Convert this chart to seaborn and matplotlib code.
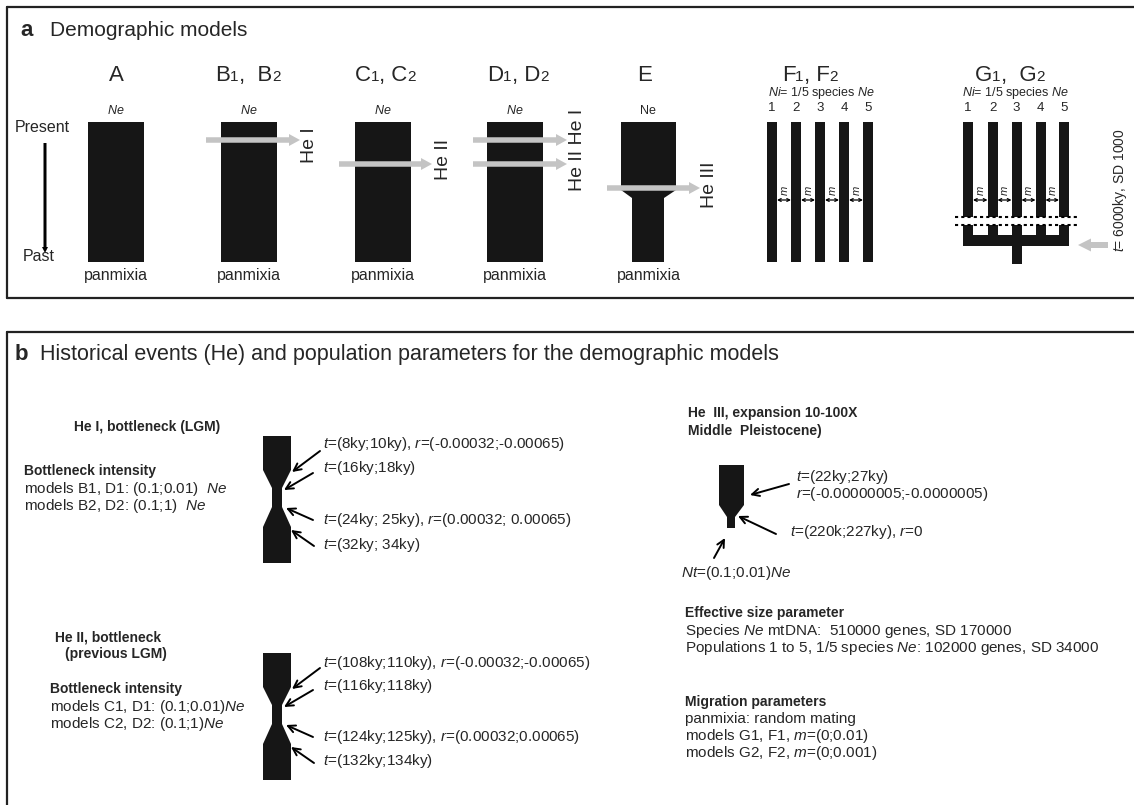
import numpy as np
import matplotlib
matplotlib.use("Agg")
import matplotlib.pyplot as plt
import seaborn as sns
from matplotlib.patches import Polygon, Rectangle, FancyArrow

sns.set_style("white")
plt.rcParams['font.family'] = ['Liberation Sans', 'DejaVu Sans']
plt.rcParams['mathtext.fontset'] = 'custom'
plt.rcParams['mathtext.rm'] = 'Liberation Sans'
plt.rcParams['mathtext.it'] = 'Liberation Sans:italic'
plt.rcParams['mathtext.bf'] = 'Liberation Sans:bold'

# ---- texts / values ----
panel_titles = ["Demographic models",
                "Historical events (He) and population parameters for the demographic models"]
# model names as (text, is_index) pieces, index drawn smaller
model_names = [[("A", 0)],
               [("B", 0), ("1", 1), (",  B", 0), ("2", 1)],
               [("C", 0), ("1", 1), (", C", 0), ("2", 1)],
               [("D", 0), ("1", 1), (", D", 0), ("2", 1)],
               [("E", 0)],
               [("F", 0), ("1", 1), (", F", 0), ("2", 1)],
               [("G", 0), ("1", 1), (",  G", 0), ("2", 1)]]
size_labels = ["$Ne$", "$Ne$", "$Ne$", "$Ne$", "Ne"]
event_labels = ["He I", "He II", "He II He I", "He III"]
pop_numbers = ["1", "2", "3", "4", "5"]
split_label = "$t$= 6000ky, SD 1000"
sub_size = "$Ni$= 1/5 species $Ne$"

he1_title = "He I, bottleneck (LGM)"
he1_intensity = ["models B1, D1: (0.1;0.01)  $Ne$", "models B2, D2: (0.1;1)  $Ne$"]
he1_times = ["$t$=(8ky;10ky), $r$=(-0.00032;-0.00065)", "$t$=(16ky;18ky)",
             "$t$=(24ky; 25ky), $r$=(0.00032; 0.00065)", "$t$=(32ky; 34ky)"]
he2_title = ["He II, bottleneck", "(previous LGM)"]
he2_intensity = ["models C1, D1: (0.1;0.01)$Ne$", "models C2, D2: (0.1;1)$Ne$"]
he2_times = ["$t$=(108ky;110ky), $r$=(-0.00032;-0.00065)", "$t$=(116ky;118ky)",
             "$t$=(124ky;125ky), $r$=(0.00032;0.00065)", "$t$=(132ky;134ky)"]
he3_title = ["He  III, expansion 10-100X", "Middle  Pleistocene)"]
he3_times = ["$t$=(22ky;27ky)", "$r$=(-0.00000005;-0.0000005)", "$t$=(220k;227ky), $r$=0"]
he3_nt = "$Nt$=(0.1;0.01)$Ne$"
size_head = "Effective size parameter"
size_lines = ["Species $Ne$ mtDNA:  510000 genes, SD 170000",
              "Populations 1 to 5, 1/5 species $Ne$: 102000 genes, SD 34000"]
mig_head = "Migration parameters"
mig_lines = ["panmixia: random mating", "models G1, F1, $m$=(0;0.01)", "models G2, F2, $m$=(0;0.001)"]

BLACK = "#161616"
GRAY = "#c4c4c4"
BODY = 11
BOLD = 10

fig = plt.figure(figsize=(11.34, 8.05), dpi=100)
ax = fig.add_axes([0, 0, 1, 1])
ax.set_xlim(0, 1134)
ax.set_ylim(805, 0)
ax.axis("off")
renderer = fig.canvas.get_renderer()


def sub_label(xc, y, parts, big=16, small=11):
    # draw pieces side by side, centred on xc, sharing one baseline
    texts = [ax.text(0, y, s, fontsize=(small if k else big), ha="left", va="baseline")
             for s, k in parts]
    widths = [t.get_window_extent(renderer).width for t in texts]
    x = xc - sum(widths) / 2
    for t, w in zip(texts, widths):
        t.set_x(x)
        x += w


def gray_arrow(x0, x1, y, w=5.5, hw=12, hl=11):
    ax.add_patch(FancyArrow(x0, y, x1 - x0, 0, width=w, head_width=hw, head_length=hl,
                            length_includes_head=True, color=GRAY, lw=0, zorder=5))


def black_arrow(tail, head):
    ax.annotate("", xy=head, xytext=tail,
                arrowprops=dict(arrowstyle="->", lw=1.4, mutation_scale=13,
                                shrinkA=0, shrinkB=0, color="black"))


def m_arrow(x0, x1, y):
    ax.annotate("", xy=(x1, y), xytext=(x0, y),
                arrowprops=dict(arrowstyle="<->", lw=0.9, mutation_scale=5,
                                shrinkA=0, shrinkB=0, color="black"))
    ax.text((x0 + x1) / 2 + 1, y - 9, "$m$", fontsize=8, rotation=90, ha="center", va="center")


def bottleneck(xl, xr, nl, nr, top):
    off = [0, 34, 52, 71, 91, 127]
    pts = [(xl, top), (xr, top), (xr, top + off[1]), (nr, top + off[2]), (nr, top + off[3]),
           (xr, top + off[4]), (xr, top + off[5]), (xl, top + off[5]), (xl, top + off[4]),
           (nl, top + off[3]), (nl, top + off[2]), (xl, top + off[1])]
    ax.add_patch(Polygon(pts, closed=True, color=BLACK, lw=0))
    tails = [(320, 15), (313, 37), (313, 84), (314, 110)]
    heads = [(292, 36), (284, 54), (286, 72), (291, 94)]
    for (tx, ty), (hx, hy) in zip(tails, heads):
        black_arrow((tx, top + ty), (hx, top + hy))


# ---- frames ----
fc = "#222222"
ax.plot([7, 1134], [7, 7], color=fc, lw=1.6)
ax.plot([7, 7], [7, 298], color=fc, lw=1.6)
ax.plot([7, 1134], [298, 298], color=fc, lw=1.6)
ax.plot([7, 1134], [332, 332], color=fc, lw=1.6)
ax.plot([7, 7], [332, 805], color=fc, lw=1.6)

ax.text(27, 30, "a", fontsize=16, fontweight="bold", ha="center", va="center")
ax.text(50, 30, panel_titles[0], fontsize=15, ha="left", va="center")
ax.text(21, 354, "b", fontsize=16, fontweight="bold", ha="center", va="center")
ax.text(40, 354, panel_titles[1], fontsize=15.5, ha="left", va="center")

# ---- panel a ----
label_x = [116, 248, 385, 518, 645, 810, 1010]
for x, name in zip(label_x, model_names):
    sub_label(x, 81, name)

bar_x = [88, 221, 355, 487]
for i, x0 in enumerate(bar_x):
    ax.add_patch(Rectangle((x0, 122), 56, 140, color=BLACK, lw=0))
    ax.text(x0 + 28, 111, size_labels[i], fontsize=9, ha="center", va="center")
    ax.text(x0 + 28, 275, "panmixia", fontsize=11.5, ha="center", va="center")

ax.text(42, 127, "Present", fontsize=11.5, ha="center", va="center")
ax.text(39, 256, "Past", fontsize=11.5, ha="center", va="center")
ax.add_patch(FancyArrow(45, 143, 0, 110, width=3, head_width=6, head_length=6,
                        length_includes_head=True, color="black", lw=0))

gray_arrow(206, 300, 140)
ax.text(309, 145, event_labels[0], fontsize=14, rotation=90, ha="center", va="center")
gray_arrow(339, 432, 164)
ax.text(443, 159, event_labels[1], fontsize=14, rotation=90, ha="center", va="center")
gray_arrow(473, 567, 140)
gray_arrow(473, 567, 164)
ax.text(578, 150, event_labels[2], fontsize=14, rotation=90, ha="center", va="center")

# E
e_pts = [(621, 122), (676, 122), (676, 190), (664, 198), (664, 262), (632, 262), (632, 198), (621, 190)]
ax.add_patch(Polygon(e_pts, closed=True, color=BLACK, lw=0))
ax.text(648, 111, size_labels[4], fontsize=9, ha="center", va="center")
ax.text(649, 275, "panmixia", fontsize=11.5, ha="center", va="center")
gray_arrow(607, 700, 188)
ax.text(710, 185, event_labels[3], fontsize=14, rotation=90, ha="center", va="center")

# F
f_cent = [772, 796, 820, 844, 868]
ax.text(821, 93, sub_size, fontsize=9, ha="center", va="center")
for c, n in zip(f_cent, pop_numbers):
    ax.add_patch(Rectangle((c - 5, 122), 10, 140, color=BLACK, lw=0))
    ax.text(c, 108, n, fontsize=9.5, ha="center", va="center")
for a, b in zip(f_cent[:-1], f_cent[1:]):
    m_arrow(a + 5, b - 5, 200)

# G
g_cent = [968, 992.5, 1016.5, 1040.5, 1064]
ax.text(1015, 93, sub_size, fontsize=9, ha="center", va="center")
for c, n in zip(g_cent, pop_numbers):
    ax.add_patch(Rectangle((c - 5, 122), 10, 124, color=BLACK, lw=0))
    ax.text(c, 108, n, fontsize=9.5, ha="center", va="center")
ax.add_patch(Rectangle((963, 235), 106, 11, color=BLACK, lw=0))
ax.add_patch(Rectangle((g_cent[2] - 5, 235), 10, 29, color=BLACK, lw=0))
ax.add_patch(Rectangle((955, 217), 123, 8, color="white", lw=0, zorder=3))
for yy in [217, 225]:
    ax.plot([955, 1078], [yy, yy], color="black", lw=1.5, ls=(0, (1.5, 1.5)), zorder=4)
for a, b in zip(g_cent[:-1], g_cent[1:]):
    m_arrow(a + 5, b - 5, 200)
ax.add_patch(FancyArrow(1108, 245, -30, 0, width=6, head_width=13, head_length=13,
                        length_includes_head=True, color=GRAY, lw=0))
ax.text(1120, 190, split_label, fontsize=10, rotation=90, ha="center", va="center")

# ---- panel b ----
ax.text(147, 427, he1_title, fontsize=BOLD, fontweight="bold", ha="center", va="center")
ax.text(24, 471, "Bottleneck intensity", fontsize=BOLD, fontweight="bold", ha="left", va="center")
for k, s in enumerate(he1_intensity):
    ax.text(24, 489 + 17 * k, s, fontsize=BODY, ha="left", va="center")
bottleneck(263, 291, 272, 282, 436)
for y, s in zip([444, 468, 520, 545], he1_times):
    ax.text(323, y, s, fontsize=BODY, ha="left", va="center")

ax.text(108, 637, he2_title[0], fontsize=BOLD, fontweight="bold", ha="center", va="center")
ax.text(116, 654, he2_title[1], fontsize=BOLD, fontweight="bold", ha="center", va="center")
ax.text(50, 689, "Bottleneck intensity", fontsize=BOLD, fontweight="bold", ha="left", va="center")
for k, s in enumerate(he2_intensity):
    ax.text(50, 707 + 17 * k, s, fontsize=BODY, ha="left", va="center")
bottleneck(263, 291, 272, 282, 653)
for y, s in zip([663, 686, 737, 761], he2_times):
    ax.text(323, y, s, fontsize=BODY, ha="left", va="center")

# He III
ax.text(688, 413, he3_title[0], fontsize=BOLD, fontweight="bold", ha="left", va="center")
ax.text(688, 431, he3_title[1], fontsize=BOLD, fontweight="bold", ha="left", va="center")
h3 = [(719, 465), (744, 465), (744, 505), (735, 517), (735, 528), (727, 528), (727, 517), (719, 505)]
ax.add_patch(Polygon(h3, closed=True, color=BLACK, lw=0))
black_arrow((789, 484), (750, 495))
black_arrow((776, 534), (738, 516))
black_arrow((714, 558), (725, 538))
ax.text(796, 477, he3_times[0], fontsize=BODY, ha="left", va="center")
ax.text(796, 494, he3_times[1], fontsize=BODY, ha="left", va="center")
ax.text(790, 532, he3_times[2], fontsize=BODY, ha="left", va="center")
ax.text(681, 573, he3_nt, fontsize=BODY, ha="left", va="center")

ax.text(685, 613, size_head, fontsize=BOLD, fontweight="bold", ha="left", va="center")
for k, s in enumerate(size_lines):
    ax.text(685, 631 + 17 * k, s, fontsize=BODY, ha="left", va="center")
ax.text(685, 702, mig_head, fontsize=BOLD, fontweight="bold", ha="left", va="center")
for k, s in enumerate(mig_lines):
    ax.text(685, 719 + 17 * k, s, fontsize=BODY, ha="left", va="center")

fig.savefig("out.png", dpi=100, facecolor="white")
